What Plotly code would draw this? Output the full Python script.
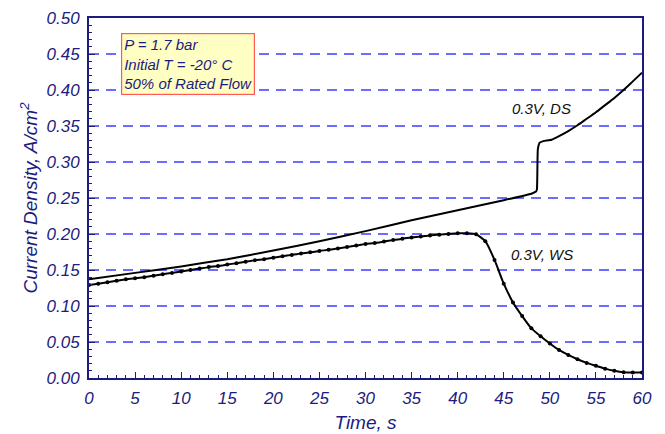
import plotly.graph_objects as go

# Dry-start (DS) run: current density vs time
ds_time = [0, 5, 10, 15, 20, 25, 30, 35, 40, 45, 48, 48.5, 48.6, 48.7, 48.9, 49.3, 50.2,
           51, 52, 53, 54, 55, 56, 57, 58, 59, 60]
ds_current = [0.137, 0.146, 0.155, 0.165, 0.177, 0.190, 0.204, 0.219, 0.233, 0.247,
              0.256, 0.259, 0.262, 0.318, 0.327, 0.329, 0.331, 0.336, 0.343, 0.351,
              0.360, 0.369, 0.379, 0.389, 0.400, 0.412, 0.424]

# Wet-start (WS) run, sampled once per second
ws_time = list(range(0, 61))
ws_current = [0.129, 0.131, 0.133, 0.135, 0.137, 0.1385, 0.140, 0.142, 0.144, 0.146,
              0.148, 0.150, 0.152, 0.154, 0.1555, 0.1575, 0.1595, 0.1615, 0.1635, 0.165,
              0.167, 0.169, 0.171, 0.173, 0.1745, 0.1765, 0.178, 0.180, 0.182, 0.184,
              0.186, 0.1875, 0.1895, 0.1915, 0.1935, 0.195, 0.1965, 0.198, 0.199, 0.200,
              0.201, 0.201, 0.1995, 0.190, 0.164, 0.131, 0.105, 0.086, 0.069, 0.058,
              0.048, 0.039, 0.032, 0.026, 0.021, 0.017, 0.013, 0.010, 0.008, 0.0075,
              0.0075]

x_ticks = [0, 5, 10, 15, 20, 25, 30, 35, 40, 45, 50, 55, 60]
y_ticks = [0.00, 0.05, 0.10, 0.15, 0.20, 0.25, 0.30, 0.35, 0.40, 0.45, 0.50]
grid_levels = [0.05, 0.10, 0.15, 0.20, 0.25, 0.30, 0.35, 0.40, 0.45]

info_lines = ["P = 1.7 bar", "Initial T = -20° C", "50% of Rated Flow"]

NAVY = "#1c1c80"
GRID = "#3c3cff"
FONT = "Liberation Sans, Arial, sans-serif"

fig = go.Figure()

# dashed horizontal reference lines
for g in grid_levels:
    fig.add_shape(type="line", xref="paper", yref="y", x0=0, x1=1, y0=g, y1=g,
                  line=dict(color=GRID, width=1.5, dash="10px,7px"), layer="below")

fig.add_trace(go.Scatter(
    x=ds_time, y=ds_current, mode="lines",
    line=dict(color="black", width=2, shape="spline", smoothing=0.4),
    showlegend=False, hoverinfo="skip"))

fig.add_trace(go.Scatter(
    x=ws_time, y=ws_current, mode="lines+markers",
    line=dict(color="black", width=2, shape="spline", smoothing=0.5),
    marker=dict(color="black", size=4),
    showlegend=False, hoverinfo="skip"))

# curve labels
fig.add_annotation(x=49.1, y=0.375, text="0.3V, DS", showarrow=False,
                   font=dict(family=FONT, size=15, color="#111111", style="italic"))
fig.add_annotation(x=49.1, y=0.171, text="0.3V, WS", showarrow=False,
                   font=dict(family=FONT, size=15, color="#111111", style="italic"))

# operating-condition box
fig.add_annotation(xref="paper", yref="paper", x=0.058, y=0.957,
                   xanchor="left", yanchor="top", align="left",
                   text="<br>".join(info_lines), showarrow=False,
                   font=dict(family=FONT, size=15, color=NAVY, style="italic"),
                   bgcolor="#ffffc4", bordercolor="#ff5a5a", borderwidth=1.2,
                   borderpad=2)

fig.update_layout(
    width=665, height=434,
    margin=dict(l=89, r=23, t=18, b=56),
    paper_bgcolor="white", plot_bgcolor="white",
    font=dict(family=FONT, color=NAVY),
)

fig.update_xaxes(
    range=[0, 60], tickvals=x_ticks, ticktext=[str(v) for v in x_ticks],
    automargin=False,
    showgrid=False, zeroline=False,
    showline=True, linecolor=NAVY, linewidth=2, mirror=True,
    ticks="inside", ticklen=6, tickwidth=1.2, tickcolor=NAVY,
    minor=dict(dtick=1, ticks="inside", ticklen=3, tickcolor=NAVY, tickwidth=1, showgrid=False),
    tickfont=dict(family=FONT, size=17, color=NAVY, style="italic"),
    ticklabelstandoff=4,
    title=dict(text="Time, s", standoff=8,
               font=dict(family=FONT, size=19, color=NAVY, style="italic")),
)

fig.update_yaxes(
    range=[0, 0.5], tickvals=y_ticks, ticktext=[f"{v:.2f}" for v in y_ticks],
    automargin=False,
    showgrid=False, zeroline=False,
    showline=True, linecolor=NAVY, linewidth=2, mirror=True,
    ticks="inside", ticklen=6, tickwidth=1.2, tickcolor=NAVY,
    minor=dict(dtick=0.01, ticks="inside", ticklen=3, tickcolor=NAVY, tickwidth=1, showgrid=False),
    tickfont=dict(family=FONT, size=17, color=NAVY, style="italic"),
    ticklabelstandoff=4,
    title=dict(text="Current Density, A/cm<sup>2</sup>", standoff=4,
               font=dict(family=FONT, size=19, color=NAVY, style="italic")),
)

fig.write_html("out.html")
